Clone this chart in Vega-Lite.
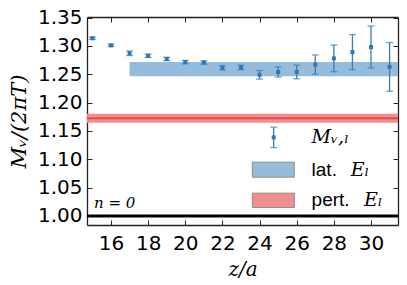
{
  "$schema": "https://vega.github.io/schema/vega-lite/v6.json",
  "autosize": "none",
  "width": 311,
  "height": 208,
  "padding": {"left": 87, "top": 17, "right": 9, "bottom": 60},
  "background": "white",
  "datasets": {
    "pts": [
      {"z": 15, "m": 1.3135, "lo": 1.3115, "hi": 1.3155},
      {"z": 16, "m": 1.301, "lo": 1.299, "hi": 1.303},
      {"z": 17, "m": 1.287, "lo": 1.283, "hi": 1.291},
      {"z": 18, "m": 1.2825, "lo": 1.2795, "hi": 1.2855},
      {"z": 19, "m": 1.277, "lo": 1.274, "hi": 1.28},
      {"z": 20, "m": 1.2714, "lo": 1.2684, "hi": 1.2744},
      {"z": 21, "m": 1.2707, "lo": 1.2677, "hi": 1.2737},
      {"z": 22, "m": 1.2614, "lo": 1.2574, "hi": 1.2654},
      {"z": 23, "m": 1.262, "lo": 1.258, "hi": 1.266},
      {"z": 24, "m": 1.249, "lo": 1.2414, "hi": 1.2566},
      {"z": 25, "m": 1.254, "lo": 1.245, "hi": 1.263},
      {"z": 26, "m": 1.254, "lo": 1.242, "hi": 1.266},
      {"z": 27, "m": 1.267, "lo": 1.25, "hi": 1.284},
      {"z": 28, "m": 1.278, "lo": 1.2545, "hi": 1.3015},
      {"z": 29, "m": 1.289, "lo": 1.258, "hi": 1.32},
      {"z": 30, "m": 1.298, "lo": 1.261, "hi": 1.335},
      {"z": 31, "m": 1.263, "lo": 1.22, "hi": 1.306}
    ],
    "bands": [
      {"series": "lat", "x0": 17, "x1": 32, "lo": 1.2466, "hi": 1.2718, "mid": 1.2592},
      {"series": "pert", "x0": 14, "x1": 32, "lo": 1.1645, "hi": 1.1805, "mid": 1.1725}
    ]
  },
  "layer": [
    {
      "layer": [
        {
          "data": {"name": "bands"},
          "mark": {"type": "rect", "clip": true},
          "encoding": {
            "x": {"field": "x0", "type": "quantitative", "scale": {"domain": [14.708, 31.454], "nice": false, "zero": false}, "axis": null},
            "x2": {"field": "x1"},
            "y": {"field": "lo", "type": "quantitative", "scale": {"domain": [0.984, 1.351], "nice": false, "zero": false}, "axis": null},
            "y2": {"field": "hi"},
            "color": {"field": "series", "type": "nominal",
                      "scale": {"domain": ["lat", "pert"], "range": ["#96bcdc", "#f28e8e"]},
                      "legend": null}
          }
        },
        {
          "data": {"name": "bands"},
          "transform": [{"filter": "datum.series === 'pert'"}],
          "mark": {"type": "rule", "color": "#e34a4a", "strokeWidth": 2},
          "encoding": {
            "y": {"field": "mid", "type": "quantitative", "scale": {"domain": [0.984, 1.351], "nice": false, "zero": false}, "axis": null}
          }
        },
        {
          "data": {"values": [{}]},
          "mark": {"type": "rule", "color": "#000", "strokeWidth": 3},
          "encoding": {
            "y": {"datum": 1.0, "type": "quantitative", "scale": {"domain": [0.984, 1.351], "nice": false, "zero": false}, "axis": null}
          }
        },
        {
          "data": {"name": "pts"},
          "mark": {"type": "rule", "color": "#377eb8", "strokeWidth": 1.3},
          "encoding": {
            "x": {"field": "z", "type": "quantitative", "scale": {"domain": [14.708, 31.454], "nice": false, "zero": false}, "axis": null},
            "y": {"field": "lo", "type": "quantitative", "scale": {"domain": [0.984, 1.351], "nice": false, "zero": false}, "axis": null},
            "y2": {"field": "hi"}
          }
        },
        {
          "data": {"name": "pts"},
          "transform": [{"fold": ["lo", "hi"], "as": ["end", "v"]}],
          "mark": {"type": "tick", "orient": "horizontal", "color": "#377eb8", "size": 7, "thickness": 1.3},
          "encoding": {
            "x": {"field": "z", "type": "quantitative", "scale": {"domain": [14.708, 31.454], "nice": false, "zero": false}, "axis": null},
            "y": {"field": "v", "type": "quantitative", "scale": {"domain": [0.984, 1.351], "nice": false, "zero": false}, "axis": null}
          }
        },
        {
          "data": {"name": "pts"},
          "mark": {"type": "square", "size": 16, "opacity": 1, "color": "#2f76b4"},
          "encoding": {
            "x": {"field": "z", "type": "quantitative", "scale": {"domain": [14.708, 31.454], "nice": false, "zero": false}, "axis": null},
            "y": {"field": "m", "type": "quantitative", "scale": {"domain": [0.984, 1.351], "nice": false, "zero": false}, "axis": null}
          }
        },
        {
          "data": {"values": [{}]},
          "mark": {"type": "rule", "color": "#377eb8", "strokeWidth": 1.3},
          "encoding": {
            "x": {"datum": 24.76, "type": "quantitative", "scale": {"domain": [14.708, 31.454], "nice": false, "zero": false}, "axis": null},
            "y": {"datum": 1.1206, "type": "quantitative", "scale": {"domain": [0.984, 1.351], "nice": false, "zero": false}, "axis": null},
            "y2": {"datum": 1.1566}
          }
        },
        {
          "data": {"values": [{"v": 1.1206}, {"v": 1.1566}]},
          "mark": {"type": "tick", "orient": "horizontal", "color": "#377eb8", "size": 7, "thickness": 1.3},
          "encoding": {
            "x": {"datum": 24.76, "type": "quantitative", "scale": {"domain": [14.708, 31.454], "nice": false, "zero": false}, "axis": null},
            "y": {"field": "v", "type": "quantitative", "scale": {"domain": [0.984, 1.351], "nice": false, "zero": false}, "axis": null}
          }
        },
        {
          "data": {"values": [{}]},
          "mark": {"type": "square", "size": 16, "opacity": 1, "color": "#2f76b4"},
          "encoding": {
            "x": {"datum": 24.76, "type": "quantitative", "scale": {"domain": [14.708, 31.454], "nice": false, "zero": false}, "axis": null},
            "y": {"datum": 1.1386, "type": "quantitative", "scale": {"domain": [0.984, 1.351], "nice": false, "zero": false}, "axis": null}
          }
        },
        {
          "data": {"values": [{}]},
          "mark": {"type": "rect", "fill": "#96bcdc", "stroke": "#8c8c8c", "strokeWidth": 1},
          "encoding": {
            "x": {"datum": 23.61, "type": "quantitative", "scale": {"domain": [14.708, 31.454], "nice": false, "zero": false}, "axis": null},
            "x2": {"datum": 25.87},
            "y": {"datum": 1.0684, "type": "quantitative", "scale": {"domain": [0.984, 1.351], "nice": false, "zero": false}, "axis": null},
            "y2": {"datum": 1.0949}
          }
        },
        {
          "data": {"values": [{}]},
          "mark": {"type": "rect", "fill": "#f28e8e", "stroke": "#8c8c8c", "strokeWidth": 1},
          "encoding": {
            "x": {"datum": 23.61, "type": "quantitative", "scale": {"domain": [14.708, 31.454], "nice": false, "zero": false}, "axis": null},
            "x2": {"datum": 25.87},
            "y": {"datum": 1.0148, "type": "quantitative", "scale": {"domain": [0.984, 1.351], "nice": false, "zero": false}, "axis": null},
            "y2": {"datum": 1.0402}
          }
        },
        {
          "data": {"values": [{}]},
          "mark": {"type": "text", "text": "Mᵥ,ₗ", "font": "DejaVu Serif", "fontStyle": "italic", "fontSize": 19, "align": "left", "baseline": "middle", "color": "#000"},
          "encoding": {
            "x": {"datum": 26.8, "type": "quantitative", "scale": {"domain": [14.708, 31.454], "nice": false, "zero": false}, "axis": null},
            "y": {"datum": 1.1386, "type": "quantitative", "scale": {"domain": [0.984, 1.351], "nice": false, "zero": false}, "axis": null}
          }
        },
        {
          "data": {"values": [{}]},
          "mark": {"type": "text", "text": "lat.", "font": "Liberation Sans", "fontSize": 19, "align": "left", "baseline": "middle", "color": "#000"},
          "encoding": {
            "x": {"datum": 26.8, "type": "quantitative", "scale": {"domain": [14.708, 31.454], "nice": false, "zero": false}, "axis": null},
            "y": {"datum": 1.0817, "type": "quantitative", "scale": {"domain": [0.984, 1.351], "nice": false, "zero": false}, "axis": null}
          }
        },
        {
          "data": {"values": [{}]},
          "mark": {"type": "text", "text": "Eₗ", "font": "DejaVu Serif", "fontStyle": "italic", "fontSize": 19, "align": "left", "baseline": "middle", "color": "#000"},
          "encoding": {
            "x": {"datum": 28.91, "type": "quantitative", "scale": {"domain": [14.708, 31.454], "nice": false, "zero": false}, "axis": null},
            "y": {"datum": 1.0817, "type": "quantitative", "scale": {"domain": [0.984, 1.351], "nice": false, "zero": false}, "axis": null}
          }
        },
        {
          "data": {"values": [{}]},
          "mark": {"type": "text", "text": "pert.", "font": "Liberation Sans", "fontSize": 19, "align": "left", "baseline": "middle", "color": "#000"},
          "encoding": {
            "x": {"datum": 26.8, "type": "quantitative", "scale": {"domain": [14.708, 31.454], "nice": false, "zero": false}, "axis": null},
            "y": {"datum": 1.0275, "type": "quantitative", "scale": {"domain": [0.984, 1.351], "nice": false, "zero": false}, "axis": null}
          }
        },
        {
          "data": {"values": [{}]},
          "mark": {"type": "text", "text": "Eₗ", "font": "DejaVu Serif", "fontStyle": "italic", "fontSize": 19, "align": "left", "baseline": "middle", "color": "#000"},
          "encoding": {
            "x": {"datum": 29.62, "type": "quantitative", "scale": {"domain": [14.708, 31.454], "nice": false, "zero": false}, "axis": null},
            "y": {"datum": 1.0275, "type": "quantitative", "scale": {"domain": [0.984, 1.351], "nice": false, "zero": false}, "axis": null}
          }
        },
        {
          "data": {"values": [{}]},
          "mark": {"type": "text", "text": "n = 0", "font": "DejaVu Serif", "fontStyle": "italic", "fontSize": 15, "align": "left", "baseline": "middle", "color": "#000"},
          "encoding": {
            "x": {"datum": 15.085, "type": "quantitative", "scale": {"domain": [14.708, 31.454], "nice": false, "zero": false}, "axis": null},
            "y": {"datum": 1.023, "type": "quantitative", "scale": {"domain": [0.984, 1.351], "nice": false, "zero": false}, "axis": null}
          }
        }
      ]
    },
    {
      "data": {"name": "pts"},
      "mark": {"type": "point", "opacity": 0},
      "encoding": {
        "x": {"field": "z", "type": "quantitative", "scale": {"domain": [14.708, 31.454], "nice": false, "zero": false},
              "axis": {"orient": "bottom", "values": [16, 18, 20, 22, 24, 26, 28, 30], "format": "d", "title": "z/a", "titleFont": "DejaVu Serif", "titleFontStyle": "italic", "titleFontWeight": "normal", "titleFontSize": 20, "titlePadding": 6, "labelPadding": 13, "labelOverlap": false}},
        "y": {"field": "m", "type": "quantitative", "scale": {"domain": [0.984, 1.351], "nice": false, "zero": false},
              "axis": {"orient": "left", "values": [1.0, 1.05, 1.1, 1.15, 1.2, 1.25, 1.3, 1.35], "format": ".2f", "title": "Mᵥ/(2πT)", "titleFont": "DejaVu Serif", "titleFontStyle": "italic", "titleFontWeight": "normal", "titleFontSize": 21, "titlePadding": 8, "labelPadding": 10, "labelOverlap": false}}
      }
    },
    {
      "data": {"name": "pts"},
      "mark": {"type": "point", "opacity": 0},
      "encoding": {
        "x": {"field": "z", "type": "quantitative", "scale": {"domain": [14.708, 31.454], "nice": false, "zero": false},
              "axis": {"orient": "top", "values": [16, 18, 20, 22, 24, 26, 28, 30], "labels": false, "title": null}},
        "y": {"field": "m", "type": "quantitative", "scale": {"domain": [0.984, 1.351], "nice": false, "zero": false},
              "axis": {"orient": "right", "values": [1.0, 1.05, 1.1, 1.15, 1.2, 1.25, 1.3, 1.35], "labels": false, "title": null}}
      }
    }
  ],
  "resolve": {"scale": {"x": "independent", "y": "independent"}},
  "config": {
    "view": {"stroke": null},
    "axis": {
      "grid": false,
      "domainColor": "#222",
      "domainWidth": 1.3,
      "tickColor": "#222",
      "tickSize": -5,
      "tickWidth": 1,
      "labelFont": "DejaVu Sans",
      "labelFontSize": 20,
      "labelColor": "#000",
      "titleColor": "#000",
      "labelOverlap": false
    }
  }
}
